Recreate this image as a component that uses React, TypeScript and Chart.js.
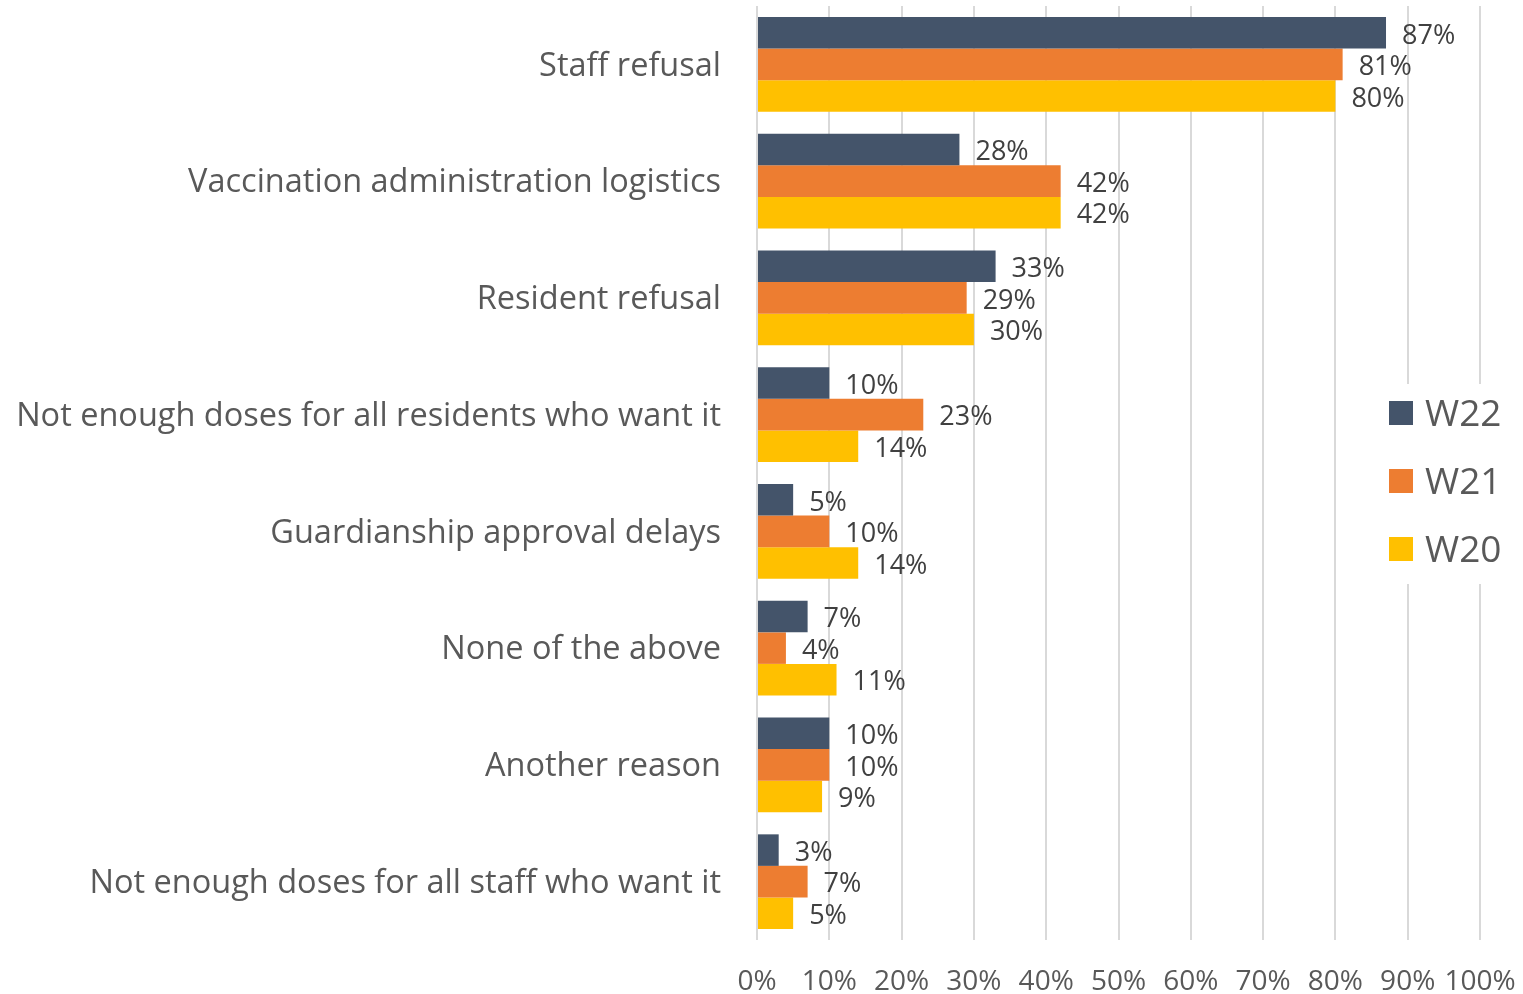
import React, { useEffect, useRef } from "react";
import { Chart, registerables } from "chart.js";

Chart.register(...registerables);

const categories = [
  "Staff refusal",
  "Vaccination administration logistics",
  "Resident refusal",
  "Not enough doses for all residents who want it",
  "Guardianship approval delays",
  "None of the above",
  "Another reason",
  "Not enough doses for all staff who want it",
];
const seriesNames = ["W22", "W21", "W20"];
const w22 = [87, 28, 33, 10, 5, 7, 10, 3];
const w21 = [81, 42, 29, 23, 10, 4, 10, 7];
const w20 = [80, 42, 30, 14, 14, 11, 9, 5];
const colors = ["#44546A", "#ED7D31", "#FFC000"];
const xTicks = [0, 10, 20, 30, 40, 50, 60, 70, 80, 90, 100];

const FONT = "'Open Sans', sans-serif";

const dataLabelPlugin = {
  id: "dataLabels",
  afterDatasetsDraw(chart: any) {
    const ctx = chart.ctx;
    ctx.save();
    ctx.font = `27px ${FONT}`;
    ctx.fillStyle = "#404040";
    ctx.textAlign = "left";
    ctx.textBaseline = "middle";
    chart.data.datasets.forEach((ds: any, i: number) => {
      const meta = chart.getDatasetMeta(i);
      meta.data.forEach((el: any, j: number) => {
        ctx.fillText(ds.data[j] + "%", el.x + 16, el.y + 3);
      });
    });
    ctx.restore();
  },
};

const legendPlugin = {
  id: "customLegend",
  afterDraw(chart: any) {
    const ctx = chart.ctx;
    const area = chart.chartArea;
    ctx.save();
    const left = area.right - 100;
    ctx.fillStyle = "#ffffff";
    ctx.fillRect(left, 384, 140, 200);
    ctx.font = `37px ${FONT}`;
    ctx.textBaseline = "middle";
    ctx.textAlign = "left";
    chart.data.datasets.forEach((ds: any, i: number) => {
      const cy = 413 + i * 68;
      ctx.fillStyle = ds.backgroundColor;
      ctx.fillRect(left + 9, cy - 12, 24, 24);
      ctx.fillStyle = "#595959";
      ctx.fillText(ds.label, left + 45, cy + 2);
    });
    ctx.restore();
  },
};

export default function App() {
  const ref = useRef<HTMLCanvasElement | null>(null);
  useEffect(() => {
    if (!ref.current) return;
    const chart = new Chart(ref.current, {
      type: "bar",
      data: {
        labels: categories,
        datasets: [w22, w21, w20].map((d, i) => ({
          label: seriesNames[i],
          data: d,
          backgroundColor: colors[i],
          borderWidth: 0,
          categoryPercentage: 0.81,
          barPercentage: 1,
        })),
      },
      options: {
        indexAxis: "y",
        animation: false,
        responsive: true,
        maintainAspectRatio: false,
        layout: { padding: { top: 6, right: 43, left: 0, bottom: 0 } },
        plugins: { legend: { display: false }, tooltip: { enabled: false } },
        scales: {
          x: {
            min: 0,
            max: 100,
            afterBuildTicks(scale: any) {
              scale.ticks = xTicks.map((v) => ({ value: v }));
            },
            afterFit(scale: any) {
              scale.height = 54;
              scale.paddingLeft = 0;
              scale.paddingRight = 0;
              scale.paddingTop = 0;
              scale.paddingBottom = 0;
            },
            grid: { color: "#d9d9d9", lineWidth: 2, drawTicks: false },
            border: { display: false },
            ticks: {
              padding: 25,
              maxRotation: 0,
              minRotation: 0,
              autoSkip: false,
              color: "#595959",
              font: { family: FONT, size: 28 },
              callback: (v: any) => v + "%",
            },
          },
          y: {
            afterFit(scale: any) {
              scale.width = 757;
              scale.paddingLeft = 0;
              scale.paddingRight = 0;
              scale.paddingTop = 0;
              scale.paddingBottom = 0;
            },
            grid: { display: false, drawTicks: false },
            border: { display: false },
            ticks: {
              padding: 36,
              labelOffset: 2,
              color: "#595959",
              font: { family: FONT, size: 32.5 },
            },
          },
        },
      },
      plugins: [dataLabelPlugin, legendPlugin],
    });
    return () => chart.destroy();
  }, []);
  return (
    <div style={{ position: "fixed", left: 0, top: 0, width: 1523, height: 994, background: "#fff" }}>
      <canvas ref={ref} />
    </div>
  );
}
